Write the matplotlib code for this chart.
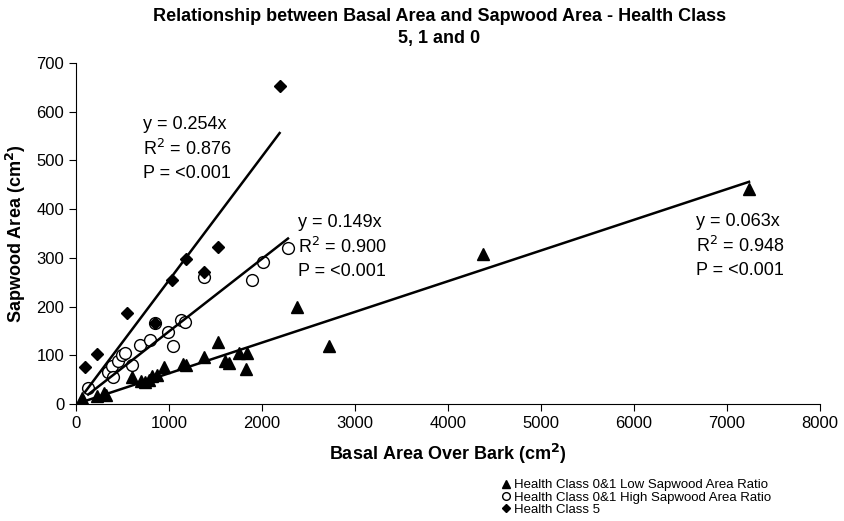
import matplotlib
matplotlib.use("Agg")
import matplotlib.pyplot as plt
import numpy as np

plt.rcParams['font.family'] = ['Liberation Sans', 'DejaVu Sans']

# Health Class 0&1 Low Sapwood Area Ratio (triangles)
low_x = [60, 230, 300, 320, 600, 700, 740, 780, 820, 870, 950, 1150, 1180,
         1380, 1530, 1600, 1650, 1750, 1840, 1830, 2380, 2720, 4380, 7240]
low_y = [12, 17, 22, 18, 55, 47, 45, 50, 58, 60, 75, 82, 80,
         97, 127, 88, 85, 105, 105, 72, 200, 120, 308, 442]

# Health Class 0&1 High Sapwood Area Ratio (open circles)
high_x = [130, 340, 385, 400, 450, 495, 530, 600, 690, 795, 850, 985,
          1040, 1130, 1170, 1380, 1890, 2010, 2280]
high_y = [33, 65, 77, 55, 88, 101, 104, 80, 121, 131, 166, 147,
          119, 172, 168, 260, 255, 291, 320]

# Health Class 5 (diamonds)
h5_x = [100, 225, 550, 850, 1030, 1180, 1380, 1530, 2190]
h5_y = [75, 103, 186, 167, 254, 298, 270, 323, 652]

slopes = [0.254, 0.149, 0.063]
r2 = ['0.876', '0.900', '0.948']

fig = plt.figure(figsize=(8.45, 5.21), dpi=100)
ax = fig.add_axes([0.09, 0.2246, 0.880, 0.6544])

l1, = ax.plot(low_x, low_y, linestyle='none', marker='^', ms=8.5,
              color='black', label='Health Class 0&1 Low Sapwood Area Ratio')
l2, = ax.plot(high_x, high_y, linestyle='none', marker='o', ms=8.5,
              markerfacecolor='white', markeredgecolor='black', mew=1.0,
              label='Health Class 0&1 High Sapwood Area Ratio')
l3, = ax.plot(h5_x, h5_y, linestyle='none', marker='D', ms=6.5,
              color='black', label='Health Class 5')

for xs, k in [(h5_x, 0), (high_x, 1), (low_x, 2)]:
    xx = np.array([min(xs), max(xs)])
    ax.plot(xx, slopes[k] * xx, color='black', lw=1.8)

ax.set_xlim(0, 8000)
ax.set_ylim(0, 700)
ax.set_xticks(range(0, 8001, 1000))
ax.set_yticks(range(0, 701, 100))
ax.tick_params(direction='out', length=5, labelsize=12)
for s in ['top', 'right']:
    ax.spines[s].set_visible(False)

ax.set_xlabel('Basal Area Over Bark (cm$^\\mathbf{2}$)', fontsize=13,
              fontweight='bold', labelpad=8)
ax.set_ylabel('Sapwood Area (cm$^\\mathbf{2}$)', fontsize=13,
              fontweight='bold', labelpad=6)
fig.text(0.52, 0.985, 'Relationship between Basal Area and Sapwood Area - Health Class\n5, 1 and 0',
         ha='center', va='top', fontsize=13, fontweight='bold', linespacing=1.4)

# equation blocks: left x, centre of first line (data units)
ann_x = [720, 2390, 6667]
ann_y = [573, 372, 374]
step = 50
for i in range(3):
    lines = ['y = %.3fx' % slopes[i], 'R$^2$ = ' + r2[i], 'P = <0.001']
    for j, t in enumerate(lines):
        ax.text(ann_x[i], ann_y[i] - j * step, t, fontsize=13,
                ha='left', va='center')

fig.legend(handles=[l1, l2, l3], loc='upper left', bbox_to_anchor=(0.585, 0.093),
           frameon=False, fontsize=9.5, handlelength=0.7, handletextpad=0.3,
           labelspacing=0.0, borderpad=0, markerscale=0.65)

fig.savefig('out.png', dpi=100)
